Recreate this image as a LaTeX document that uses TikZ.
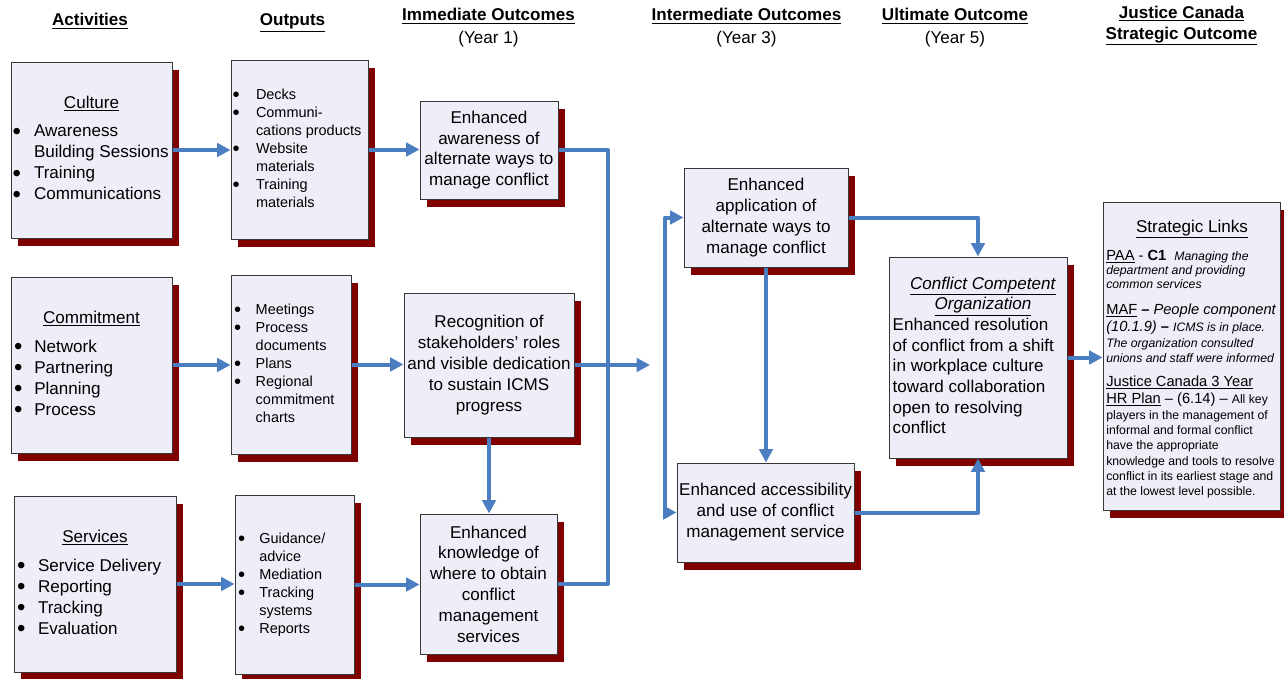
\documentclass[tikz,border=0pt]{standalone}
\usepackage{fontspec}
\setmainfont{Liberation Sans}
\usetikzlibrary{arrows.meta,shadows,calc}
\definecolor{boxc}{RGB}{237,238,247}
\definecolor{bordc}{RGB}{55,55,55}
\definecolor{shadc}{RGB}{128,0,0}
\definecolor{arrc}{RGB}{74,126,193}
\newcommand\fA{\fontsize{12.8pt}{15.75pt}\selectfont}
\newcommand\fAs{\fontsize{12.8pt}{15.5pt}\selectfont}
\newcommand\fB{\fontsize{10.85pt}{13.5pt}\selectfont}
\newcommand\fC{\fontsize{11pt}{13pt}\selectfont}
\newcommand\fD{\fontsize{9.2pt}{11pt}\selectfont}
\newcommand\ul[1]{\smash{\underline{#1}}}
\newcommand\bul{\smash{\raisebox{-0.14em}{\scalebox{1.4}{\textbullet}}}}
\tikzset{
  box/.style={draw=bordc, fill=boxc, line width=0.75pt, inner sep=0pt,
    general shadow={fill=shadc, shadow xshift=5.25pt, shadow yshift=-6pt}},
  bx/.style 2 args={box, minimum width=#1*0.75pt, minimum height=#2*0.75pt},
  arr/.style={draw=arrc, line width=3pt, line join=round, -{Triangle[length=10pt,width=10pt]}},
  ln/.style={draw=arrc, line width=3pt, line join=round},
  hd/.style={font=\fA\bfseries, anchor=base, inner sep=0pt},
  hdr/.style={font=\fA, anchor=base, inner sep=0pt},
  sl/.style={anchor=base west, inner sep=0pt},
}
\begin{document}
\begin{tikzpicture}[x=0.75pt,y=-0.75pt]
\useasboundingbox (0,0) rectangle (1284,678);

% headers
\node[hd] (h1) at (90,26) {\underline{Activities}};
\node[hd] (h2) at (292.5,26) {\underline{Outputs}};
\node[hd] (h3) at (488.5,21) {\underline{Immediate Outcomes}};
\node[hdr] (h3b) at (488.5,43) {(Year 1)};
\node[hd] (h4) at (746.5,21) {\underline{Intermediate Outcomes}};
\node[hdr] (h4b) at (746.5,43) {(Year 3)};
\node[hd] (h5) at (955,21) {\underline{Ultimate Outcome}};
\node[hdr] (h5b) at (955,43) {(Year 5)};
\node[hd] (h6) at (1181.5,18) {\underline{Justice Canada}};
\node[hd] (h7) at (1181.5,39) {\underline{Strategic Outcome}};

% activities
\node[bx={161}{176}] (cult) at (91.5,150) {\fA\begin{tabular}{@{\hspace{1.125pt}}p{16.125pt}@{}p{103.5pt}@{}}
\multicolumn{2}{@{}l@{}}{\makebox[120.75pt][c]{\ul{Culture}}}\\[5.25pt]
\bul & Awareness\\
 & Building Sessions\\
\bul & Training\\
\bul & Communications
\end{tabular}};
\node[bx={161}{176}] (comm) at (91.5,365) {\fA\begin{tabular}{@{\hspace{2.25pt}}p{15.2pt}@{}p{103.3pt}@{}}
\multicolumn{2}{@{}l@{}}{\makebox[120.75pt][c]{\ul{Commitment}}}\\[6pt]
\bul & Network\\
\bul & Partnering\\
\bul & Planning\\
\bul & Process
\end{tabular}};
\node[bx={162}{176}] (serv) at (95,584) {\fA\begin{tabular}{@{\hspace{2.25pt}}p{15.75pt}@{}p{103.5pt}@{}}
\multicolumn{2}{@{}l@{}}{\makebox[121.5pt][c]{\ul{Services}}}\\[6pt]
\bul & Service Delivery\\
\bul & Reporting\\
\bul & Tracking\\
\bul & Evaluation
\end{tabular}};

% outputs
\node[bx={137}{179}] (out1) at (299.5,149.5) {\fB\begin{tabular}{@{\hspace{1.2pt}}p{17.55pt}@{}p{84pt}@{}}
\bul & Decks\\
\bul & Communi-\\
 & cations products\\
\bul & Website\\
 & materials\\
\bul & Training\\
 & materials
\end{tabular}};
\node[bx={120}{179}] (out2) at (291,364.5) {\fB\begin{tabular}{@{\hspace{2.25pt}}p{16.3pt}@{}p{71.45pt}@{}}
\bul & Meetings\\
\bul & Process\\
 & documents\\
\bul & Plans\\
\bul & Regional\\
 & commitment\\
 & charts
\end{tabular}};
\node[bx={119}{179}] (out3) at (294.5,584.5) {\fB\begin{tabular}{@{\hspace{2.25pt}}p{16pt}@{}p{71pt}@{}}
\bul & Guidance/\\
 & advice\\
\bul & Mediation\\
\bul & Tracking\\
 & systems\\
\bul & Reports
\end{tabular}};

% immediate outcomes
\node[bx={138}{98}, align=center, font=\fAs] (io1) at (489,150) {Enhanced\\awareness of\\alternate ways to\\manage conflict};
\node[bx={170}{144}, align=center, font=\fA] (io2) at (489,365) {Recognition of\\stakeholders’ roles\\and visible dedication\\to sustain ICMS\\progress};
\node[bx={137}{140}, align=center, font=\fontsize{12.8pt}{15.6pt}\selectfont] (io3) at (488.5,584) {Enhanced\\knowledge of\\where to obtain\\conflict\\management\\services};

% intermediate outcomes
\node[bx={164}{99}, align=center, font=\fA] (int1) at (766,217.5) {Enhanced\\application of\\alternate ways to\\manage conflict};
\node[bx={177}{99}, align=center, font=\fA] (int2) at (765.5,512.5) {Enhanced accessibility\\and use of conflict\\management service};

% ultimate outcome
\node[bx={178}{201}] (ult) at (978,357.5) {\fAs\begin{tabular}{@{\hspace{2.8pt}}l@{}}
\multicolumn{1}{@{}l@{}}{\makebox[133.5pt][c]{\hspace{7.5pt}\ul{\textit{Conflict Competent}}}}\\
\multicolumn{1}{@{}l@{}}{\makebox[133.5pt][c]{\hspace{7.5pt}\ul{\textit{Organization}}}}\\
Enhanced resolution\\
of conflict from a shift\\
in workplace culture\\
toward collaboration\\
open to resolving\\
conflict
\end{tabular}};

% strategic links
\node[bx={177}{308}] (sl) at (1191.5,356) {};
\node[anchor=base, inner sep=0pt] (s1) at (1192,232) {\fA\underline{Strategic Links}};
\node[sl] (s2) at (1106,260) {\fC\underline{PAA} - \textbf{C1}\hspace{6pt}{\fD\itshape Managing the}};
\node[sl] (s3) at (1106,274) {\fD\itshape department and providing};
\node[sl] (s4) at (1106,288) {\fD\itshape common services};
\node[sl] (s5) at (1106,314) {\fC\underline{MAF} \textbf{–} \textit{People component}};
\node[sl] (s6) at (1106,331) {\fC\textit{(10.1.9)} \textbf{–} {\fD\itshape ICMS is in place.}};
\node[sl] (s7) at (1106,347) {\fD\itshape The organization consulted};
\node[sl] (s8) at (1106,362) {\fD\itshape unions and staff were informed};
\node[sl] (s9) at (1106,386) {\fC\underline{Justice Canada 3 Year}};
\node[sl] (s10) at (1106,403) {\fC\underline{HR Plan} – (6.14) – {\fD All key}};
\node[sl] (s11) at (1106,419) {\fD players in the management of};
\node[sl] (s12) at (1106,434) {\fD informal and formal conflict};
\node[sl] (s13) at (1106,449) {\fD have the appropriate};
\node[sl] (s14) at (1106,465) {\fD knowledge and tools to resolve};
\node[sl] (s15) at (1106,480) {\fD conflict in its earliest stage and};
\node[sl] (s16) at (1106,495) {\fD at the lowest level possible.};

% connectors
\coordinate (col) at (608,0);
\coordinate (j2) at (650,365);
\coordinate (brk) at (665,0);
\draw[arr] (cult.east) -- (cult.east -| out1.west);
\draw[arr] (comm.east) -- (comm.east -| out2.west);
\draw[arr] (serv.east) -- (serv.east -| out3.west);
\draw[arr] (out1.east) -- (out1.east -| io1.west);
\draw[arr] (out2.east) -- (out2.east -| io2.west);
\draw[arr] (out3.east) -- (out3.east -| io3.west);
\draw[ln] (io1.east) -- (col |- io1.east) -- (col |- io3.east) -- (io3.east);
\draw[arr] (io2.east) -- (io2.east -| j2);
\draw[arr] (io2.south) -- (io2.south |- io3.north);
\draw[arr, {Triangle[length=10pt,width=10pt]}-{Triangle[length=10pt,width=10pt]}] (int1.west) -- (brk |- int1.west) -- (brk |- int2.west) -- (int2.west);
\draw[arr] (int1.south) -- (int1.south |- int2.north);
\draw[arr] (int1.east) -| (ult.north);
\draw[arr] (int2.east) -| (ult.south);
\draw[arr] (ult.east) -- (ult.east -| sl.west);
\end{tikzpicture}
\end{document}
